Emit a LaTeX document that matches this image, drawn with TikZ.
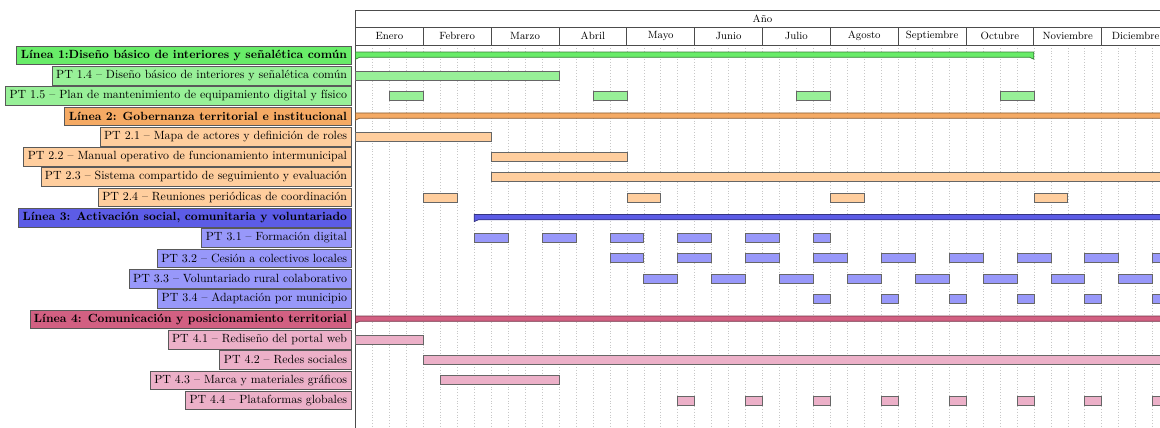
\documentclass[tikz,border=0pt]{standalone}
\usepackage{fontspec}
\usepackage{tikz}

\definecolor{verdeL}{RGB}{104,236,104}
\definecolor{verdeT}{RGB}{152,240,152}
\definecolor{naranjaL}{RGB}{245,170,100}
\definecolor{naranjaT}{RGB}{255,206,158}
\definecolor{azulL}{RGB}{92,92,230}
\definecolor{azulT}{RGB}{152,152,250}
\definecolor{rosaL}{RGB}{210,96,130}
\definecolor{rosaT}{RGB}{236,176,200}

% group bar with the small peaks at both ends: row, start, end, colour
\newcommand{\grupobar}[4]{%
  \draw[draw=#4!55!black,fill=#4,line width=0.6pt]
    (#2,-#1+0.655) -- (#3,-#1+0.655) -- (#3,-#1+0.3) -- (#3-0.24,-#1+0.394)
    -- (#2+0.24,-#1+0.394) -- (#2,-#1+0.3) -- cycle;}
% plain bars of one row: row, colour, list of start/end weeks
\newcommand{\barras}[3]{%
  \foreach \a/\b in {#3}
    \draw[barra,fill=#2] (\a,-#1+0.28) rectangle (\b,-#1+0.72);}

\begin{document}
\begin{tikzpicture}[x=14.54pt,y=17.41pt,
    tarea/.style={draw=black!65,anchor=east,minimum height=16pt,inner xsep=3.6pt,inner ysep=0pt,
      font=\fontsize{10.2}{12}\selectfont},
    linea/.style={tarea,font=\fontsize{10.2}{12}\selectfont\bfseries},
    barra/.style={draw=black!60,line width=0.5pt},
    marco/.style={draw=black!70,line width=0.6pt},
    rejilla/.style={draw=black!22,dotted,line width=0.4pt},
    cabecera/.style={font=\small,inner sep=1pt}]

  \clip (-20.96,2.217) rectangle (47.44,-18.82);

  % grid and header
  \foreach \w in {1,...,48}
    \draw[rejilla] (\w,0) -- (\w,-18.9);
  \draw[marco] (0,1.72) -- (49,1.72) (0,0.86) -- (49,0.86) (0,0) -- (49,0);
  \draw[marco] (0,1.72) -- (0,-18.9);
  \foreach \m in {1,...,12}
    \draw[marco] (4*\m,0.86) -- (4*\m,0);
  \node[cabecera] (anyo) at (24,1.29) {Año};
  \foreach \mes [count=\m from 0] in {Enero,Febrero,Marzo,Abril,Mayo,Junio,Julio,Agosto,Septiembre,Octubre,Noviembre,Diciembre}
    \node[cabecera] (mes\m) at (4*\m+2,0.43) {\mes};

  % labels
  \node[linea,fill=verdeL]   (l1)   at (-0.236,-0.5)  {Línea 1:Diseño básico de interiores y señalética común};
  \node[tarea,fill=verdeT]   (pt14) at (-0.236,-1.5)  {PT 1.4 -- Diseño básico de interiores y señalética común};
  \node[tarea,fill=verdeT]   (pt15) at (-0.236,-2.5)  {PT 1.5 -- Plan de mantenimiento de equipamiento digital y físico};
  \node[linea,fill=naranjaL] (l2)   at (-0.236,-3.5)  {Línea 2: Gobernanza territorial e institucional};
  \node[tarea,fill=naranjaT] (pt21) at (-0.236,-4.5)  {PT 2.1 -- Mapa de actores y definición de roles};
  \node[tarea,fill=naranjaT] (pt22) at (-0.236,-5.5)  {PT 2.2 -- Manual operativo de funcionamiento intermunicipal};
  \node[tarea,fill=naranjaT] (pt23) at (-0.236,-6.5)  {PT 2.3 -- Sistema compartido de seguimiento y evaluación};
  \node[tarea,fill=naranjaT] (pt24) at (-0.236,-7.5)  {PT 2.4 -- Reuniones periódicas de coordinación};
  \node[linea,fill=azulL]    (l3)   at (-0.236,-8.5)  {Línea 3: Activación social, comunitaria y voluntariado};
  \node[tarea,fill=azulT]    (pt31) at (-0.236,-9.5)  {PT 3.1 -- Formación digital};
  \node[tarea,fill=azulT]    (pt32) at (-0.236,-10.5) {PT 3.2 -- Cesión a colectivos locales};
  \node[tarea,fill=azulT]    (pt33) at (-0.236,-11.5) {PT 3.3 -- Voluntariado rural colaborativo};
  \node[tarea,fill=azulT]    (pt34) at (-0.236,-12.5) {PT 3.4 -- Adaptación por municipio};
  \node[linea,fill=rosaL]    (l4)   at (-0.236,-13.5) {Línea 4: Comunicación y posicionamiento territorial};
  \node[tarea,fill=rosaT]    (pt41) at (-0.236,-14.5) {PT 4.1 -- Rediseño del portal web};
  \node[tarea,fill=rosaT]    (pt42) at (-0.236,-15.5) {PT 4.2 -- Redes sociales};
  \node[tarea,fill=rosaT]    (pt43) at (-0.236,-16.5) {PT 4.3 -- Marca y materiales gráficos};
  \node[tarea,fill=rosaT]    (pt44) at (-0.236,-17.5) {PT 4.4 -- Plataformas globales};

  % bars
  \grupobar{1}{0}{40}{verdeL}
  \barras{2}{verdeT}{0/12}
  \barras{3}{verdeT}{2/4,14/16,26/28,38/40}
  \grupobar{4}{0}{48}{naranjaL}
  \barras{5}{naranjaT}{0/8}
  \barras{6}{naranjaT}{8/16}
  \barras{7}{naranjaT}{8/48}
  \barras{8}{naranjaT}{4/6,16/18,28/30,40/42}
  \grupobar{9}{7}{48}{azulL}
  \barras{10}{azulT}{7/9,11/13,15/17,19/21,23/25,27/28}
  \barras{11}{azulT}{15/17,19/21,23/25,27/29,31/33,35/37,39/41,43/45,47/49}
  \barras{12}{azulT}{17/19,21/23,25/27,29/31,33/35,37/39,41/43,45/47}
  \barras{13}{azulT}{27/28,31/32,35/36,39/40,43/44,47/48}
  \grupobar{14}{0}{48}{rosaL}
  \barras{15}{rosaT}{0/4}
  \barras{16}{rosaT}{4/48}
  \barras{17}{rosaT}{5/12}
  \barras{18}{rosaT}{19/20,23/24,27/28,31/32,35/36,39/40,43/44,47/48}
\end{tikzpicture}
\end{document}
